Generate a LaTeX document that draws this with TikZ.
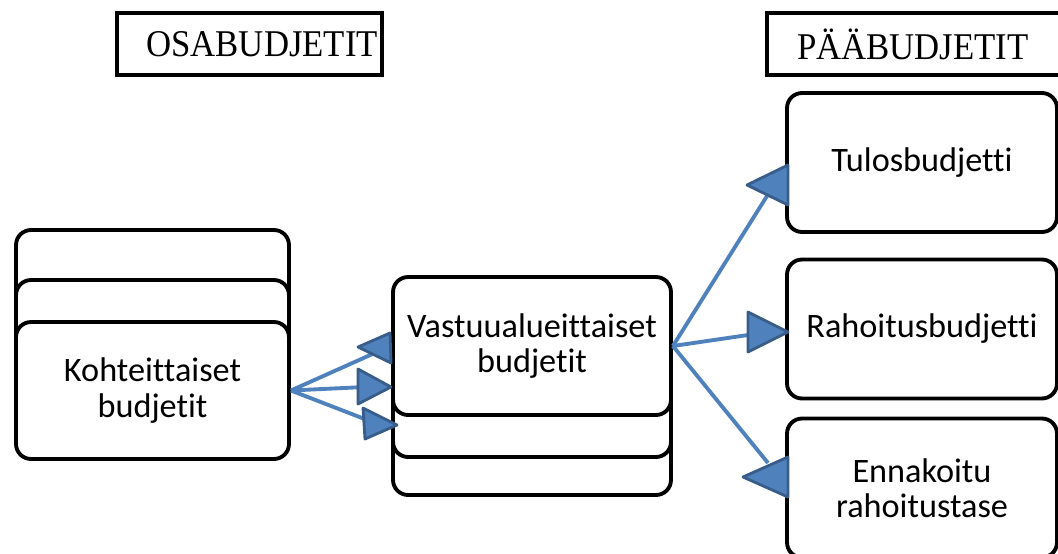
\documentclass[tikz,border=0pt]{standalone}
\usepackage{fontspec}
\setmainfont{Liberation Serif}
\newfontfamily\hdrfont[FakeStretch=0.92]{Liberation Serif}
\newfontfamily\boxfont[Ligatures=NoCommon]{Carlito}
\usetikzlibrary{arrows.meta, positioning}
\definecolor{lineblue}{RGB}{79, 129, 189}
\definecolor{edgeblue}{RGB}{56, 93, 138}

\begin{document}
\begin{tikzpicture}[
    x=0.02cm, y=-0.02cm,
    header/.style={rectangle, draw=black, line width=2.2pt, minimum height=1.24cm, inner ysep=0pt, font=\hdrfont\fontsize{21.5}{22}\selectfont},
    budget/.style={rectangle, draw=black, fill=white, line width=2.2pt, rounded corners=0.3cm, align=center, font=\boxfont\fontsize{19.5}{20}\selectfont},
    leftbox/.style={budget, minimum width=5.46cm, minimum height=2.74cm},
    midbox/.style={budget, minimum width=5.56cm, minimum height=2.76cm},
    mainbox/.style={budget, minimum width=5.4cm, minimum height=2.78cm},
    arrow/.style={draw=lineblue, line width=2.2pt},
    head/.style={fill=lineblue, draw=edgeblue, line width=1.6pt, line join=round}
]
    \useasboundingbox (0,0) rectangle (1058,554);

    % headers
    \node[header, text width=5.14cm, inner xsep=0.08cm, align=right] (osa) at (249.5,44) {OSABUDJETIT};
    \node[header, text width=4.7cm, inner xsep=0.6cm, align=left] (paa) at (914.5,44) {PÄÄBUDJETIT};

    % left stack
    \node[leftbox] (koht3) at (152.5,298.5) {};
    \node[leftbox] (koht2) at (152.5,348.5) {};
    \node[leftbox] (koht) at (152.5,390.5) {Kohteittaiset\\budjetit};

    % middle stack
    \node[midbox] (vast3) at (532,426) {};
    \node[midbox] (vast2) at (532,388) {};
    \node[midbox] (vast) at (532,346) {Vastuualueittaiset\\budjetit};

    % main budgets
    \node[mainbox] (tulos) at (922,162.5) {Tulosbudjetti};
    \node[mainbox] (rah) at (922,329) {Rahoitusbudjetti};
    \node[mainbox] (enn) at (922,488) {Ennakoitu\\rahoitustase};

    % arrow ends
    \coordinate (k1) at (377,352);
    \coordinate (k2) at (365,387);
    \coordinate (k3) at (375,423);
    \coordinate (p1) at (767,196);
    \coordinate (p2) at (755,334);
    \coordinate (p3) at (768,463);

    \draw[arrow] (koht.east) -- (k1);
    \draw[arrow] (koht.east) -- (k2);
    \draw[arrow] (koht.east) -- (k3);
    \draw[arrow] (vast.east) -- (p1);
    \draw[arrow] (vast.east) -- (p2);
    \draw[arrow] (vast.east) -- (p3);

    % arrow heads
    \filldraw[head] (390,333) -- (391,363) -- (358,347) -- cycle;
    \filldraw[head] (358,369) -- (358,404) -- (391,387) -- cycle;
    \filldraw[head] (363,408) -- (365,439) -- (397,425) -- cycle;
    \filldraw[head] (788,165) -- (788,205) -- (747,185) -- cycle;
    \filldraw[head] (748,312) -- (748,352) -- (788,332) -- cycle;
    \filldraw[head] (788,457) -- (788,497) -- (743,477) -- cycle;
\end{tikzpicture}
\end{document}
